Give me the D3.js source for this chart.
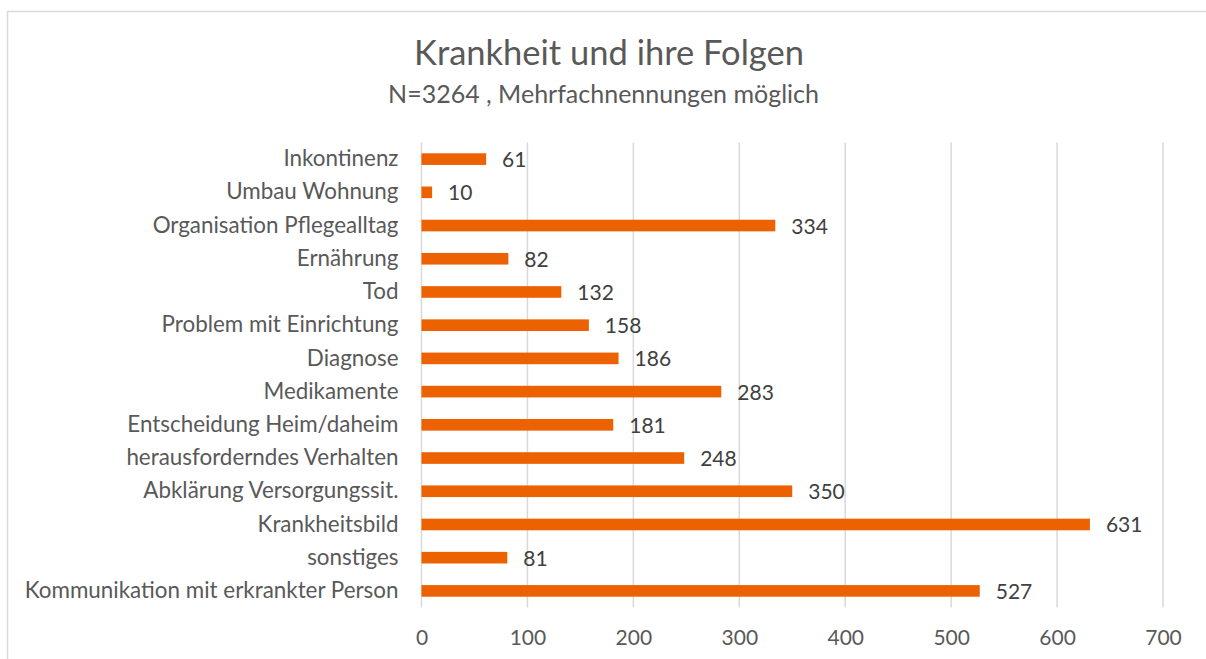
<!DOCTYPE html>
<html>
<head>
<meta charset="utf-8">
<script src="https://cdn.jsdelivr.net/npm/d3@7"></script>
<style>
  body { margin: 0; background: #fff; }
  svg { display: block; }
  text { font-family: Lato, "Open Sans", sans-serif; }
</style>
</head>
<body>
<svg id="chart" width="1206" height="659"></svg>
<script>
var CATEGORIES = [
  'Inkontinenz',
  'Umbau Wohnung',
  'Organisation Pflegealltag',
  'Ernährung',
  'Tod',
  'Problem mit Einrichtung',
  'Diagnose',
  'Medikamente',
  'Entscheidung Heim/daheim',
  'herausforderndes Verhalten',
  'Abklärung Versorgungssit.',
  'Krankheitsbild',
  'sonstiges',
  'Kommunikation mit erkrankter Person'
];
var VALUES = [61, 10, 334, 82, 132, 158, 186, 283, 181, 248, 350, 631, 81, 527];
var TICKS = [0, 100, 200, 300, 400, 500, 600, 700];

var TITLE = 'Krankheit und ihre Folgen';
var SUBTITLE = 'N=3264 , Mehrfachnennungen möglich';

var svg = d3.select('#chart');

// outer frame of the chart area
svg.append('rect')
  .attr('x', 7.5).attr('y', 11.5)
  .attr('width', 1210).attr('height', 660)
  .attr('fill', '#fff')
  .attr('stroke', '#d9d9d9')
  .attr('stroke-width', 1.5);

var x = d3.scaleLinear().domain([0, 700]).range([421.5, 1163]);
var y = d3.scaleBand().domain(CATEGORIES).range([142.5, 607.5]).paddingInner(0.65).paddingOuter(0.325);

// gridlines
svg.append('g').selectAll('line').data(TICKS).enter().append('line')
  .attr('x1', function(d) { return x(d); })
  .attr('x2', function(d) { return x(d); })
  .attr('y1', 142.5).attr('y2', 607.5)
  .attr('stroke', '#d9d9d9').attr('stroke-width', 1.5);

// x axis labels
var xAxis = d3.axisBottom(x).tickValues(TICKS).tickSize(0).tickPadding(23);
var gx = svg.append('g').attr('transform', 'translate(0,607.5)').call(xAxis);
gx.select('.domain').remove();
gx.selectAll('text').attr('font-family', 'Lato, sans-serif').attr('font-size', 21).attr('fill', '#595959');

// y axis labels
var yAxis = d3.axisLeft(y).tickSize(0).tickPadding(23);
var gy = svg.append('g').attr('transform', 'translate(421.5,0)').call(yAxis);
gy.select('.domain').remove();
gy.selectAll('text').attr('font-family', 'Lato, sans-serif').attr('font-size', 22.4).attr('fill', '#595959');

// bars
svg.append('g').selectAll('rect').data(VALUES).enter().append('rect')
  .attr('x', x(0))
  .attr('y', function(d, i) { return y(CATEGORIES[i]); })
  .attr('width', function(d) { return x(d) - x(0); })
  .attr('height', y.bandwidth())
  .attr('fill', '#ec6100');

// value labels
svg.append('g').selectAll('text').data(VALUES).enter().append('text')
  .attr('x', function(d) { return x(d) + 16; })
  .attr('y', function(d, i) { return y(CATEGORIES[i]) + y.bandwidth() / 2; })
  .attr('dy', '0.38em')
  .attr('font-size', 21)
  .attr('fill', '#404040')
  .text(function(d) { return d; });

// titles
svg.append('text')
  .attr('x', 609).attr('y', 65)
  .attr('text-anchor', 'middle')
  .attr('font-size', 34.5)
  .attr('fill', '#595959')
  .text(TITLE);

svg.append('text')
  .attr('x', 603.5).attr('y', 103)
  .attr('text-anchor', 'middle')
  .attr('font-size', 25)
  .attr('fill', '#595959')
  .text(SUBTITLE);
</script>
</body>
</html>
